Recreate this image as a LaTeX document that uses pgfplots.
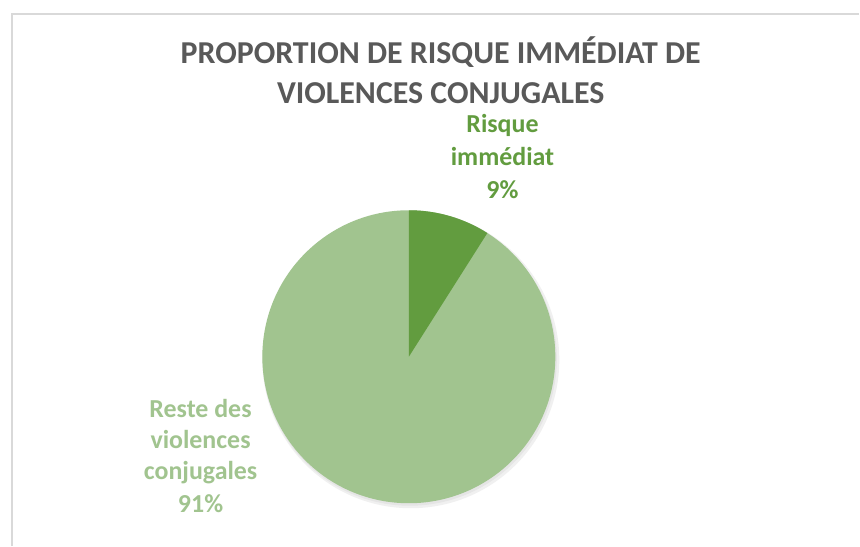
\documentclass[border=0pt]{standalone}
\usepackage{pgfplots}
\pgfplotsset{compat=1.18}
\usepackage{pgfplotstable}
\usepackage{fontspec}
\setmainfont{Carlito}
\definecolor{darkg}{HTML}{629C3F}
\definecolor{lightg}{HTML}{A1C48F}
\definecolor{titlegray}{HTML}{595959}
\definecolor{framegray}{HTML}{D9D9D9}
\pgfplotstableread{
label value
Risque 9
Reste 91
}\piedata
\begin{document}
\pgfplotstablegetelem{0}{value}\of\piedata
\edef\va{\pgfplotsretval}
\begin{tikzpicture}
\begin{axis}[width=860pt,height=548pt,scale only axis,
  xmin=0,xmax=860,ymin=0,ymax=548,hide axis,clip=false]
\fill[white] (axis cs:0,0) rectangle (axis cs:860,548);
\draw[framegray,line width=1.5pt] (axis cs:10,0) -- (axis cs:10,534) -- (axis cs:860,534);
% soft shadow
\fill[black!6] (axis cs:410,187) circle[radius=149pt];
\fill[black!10] (axis cs:409,188) circle[radius=147.5pt];
% slices
\fill[lightg] (axis cs:408,190) circle[radius=147pt];
\fill[darkg] (axis cs:408,190) -- ++(90:147pt) arc[start angle=90,end angle={90-3.6*\va},radius=147pt] -- cycle;
% title
\node[anchor=base,text=titlegray,font=\fontsize{32}{38}\selectfont\bfseries] at (axis cs:440,484) {PROPORTION DE RISQUE IMMÉDIAT DE};
\node[anchor=base,text=titlegray,font=\fontsize{32}{38}\selectfont\bfseries] at (axis cs:440,444) {VIOLENCES CONJUGALES};
% labels
\tikzset{lab/.style={anchor=base,font=\fontsize{26}{30}\selectfont\bfseries}}
\node[lab,text=darkg] at (axis cs:502,415) {Risque};
\node[lab,text=darkg] at (axis cs:502,381.5) {immédiat};
\node[lab,text=darkg] at (axis cs:502,349) {9\%};
\node[lab,text=lightg] at (axis cs:199,129.5) {Reste des};
\node[lab,text=lightg] at (axis cs:199,97.5) {violences};
\node[lab,text=lightg] at (axis cs:199,66.5) {conjugales};
\node[lab,text=lightg] at (axis cs:199,33.5) {91\%};
\end{axis}
\end{tikzpicture}
\end{document}
